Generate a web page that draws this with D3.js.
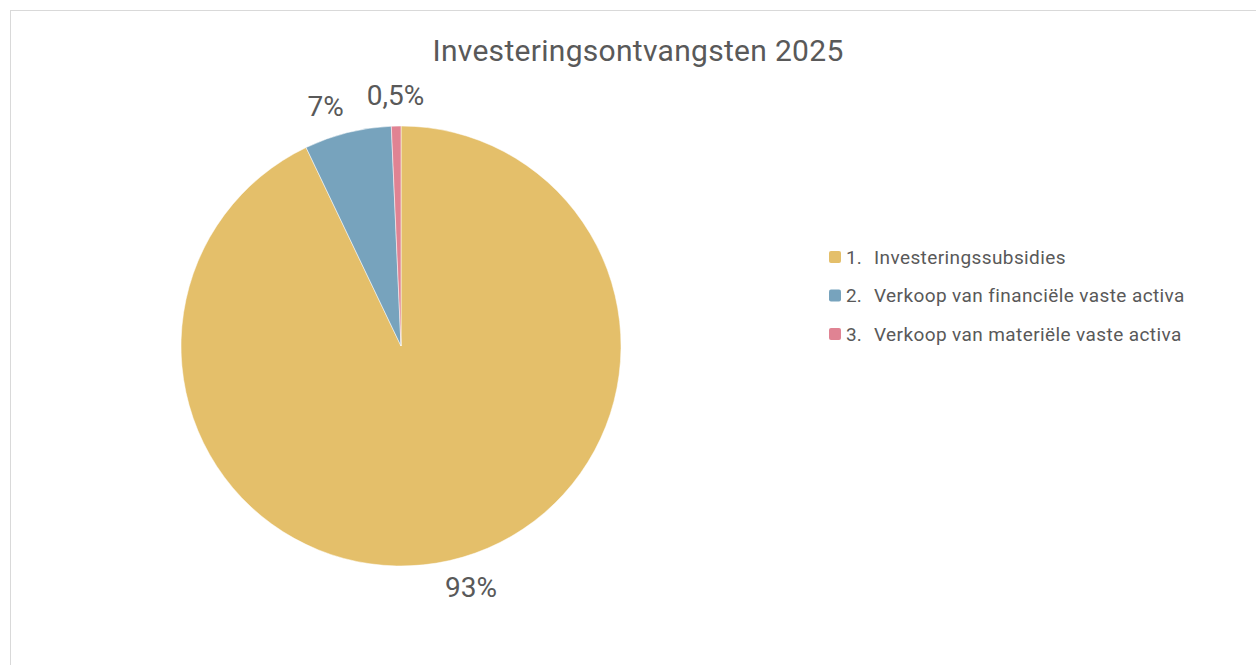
<!DOCTYPE html>
<html>
<head>
<meta charset="utf-8">
<script src="https://cdn.jsdelivr.net/npm/d3@7"></script>
<style>
  body { margin: 0; background: #fff; }
  text { font-family: Roboto, "Liberation Sans", sans-serif; fill: #595959; }
</style>
</head>
<body>
<svg id="pie"></svg>
<script>
var categories = ["Investeringssubsidies", "Verkoop van financiële vaste activa", "Verkoop van materiële vaste activa"];
var values = [92.9, 6.4, 0.7];
var labels = ["93%", "7%", "0,5%"];
var colors = ["#E4BF6A", "#77A3BD", "#E08393"];

var width = 1256, height = 665;
var data = categories.map((c, i) => ({ name: c, value: values[i], label: labels[i] }));

var svg = d3.select("#pie")
            .attr("width", width)
            .attr("height", height);

// chart frame
svg.append("rect")
   .attr("x", 10.5)
   .attr("y", 10.5)
   .attr("width", width)
   .attr("height", height)
   .attr("fill", "none")
   .attr("stroke", "#d9d9d9");

svg.append("text")
   .attr("x", 638)
   .attr("y", 61)
   .attr("font-size", "30px")
   .attr("letter-spacing", "0.3px")
   .style("text-anchor", "middle")
   .text("Investeringsontvangsten 2025");

var radius = 220;
var chart = svg.append("g")
               .attr("transform", "translate(401, 346)");

var arcs = d3.pie()
             .sort(null)
             .value(d => d.value);

var path = d3.arc()
             .innerRadius(0)
             .outerRadius(radius);

var color = d3.scaleOrdinal()
              .domain(categories)
              .range(colors);

chart.selectAll(".arc")
     .data(arcs(data))
     .enter()
       .append("path")
       .classed("arc", true)
       .attr("fill", d => color(d.data.name))
       .attr("stroke", "#fff")
       .attr("stroke-width", "0.5px")
       .attr("d", path);

// outside-end labels, big slices nudged a little counter-clockwise like Excel does
function labelPos(d) {
    var a = (d.startAngle + d.endAngle) / 2;
    if (d.endAngle - d.startAngle > 0.3) a -= 0.06;
    var r = radius + 31;
    return [Math.sin(a) * r, -Math.cos(a) * r];
}

chart.selectAll(".pie-label")
     .data(arcs(data))
     .enter()
       .append("text")
       .classed("pie-label", true)
       .attr("x", d => labelPos(d)[0])
       .attr("y", d => labelPos(d)[1])
       .attr("dy", "0.35em")
       .attr("font-size", "28px")
       .style("text-anchor", "middle")
       .text(d => d.data.label);

// Legend
var legend = svg.append("g")
                .attr("transform", "translate(829, 251)");

var item = legend.selectAll(".legend-item")
                 .data(categories)
                 .enter()
                   .append("g")
                   .classed("legend-item", true)
                   .attr("transform", (d, i) => "translate(0," + (i * 38.5) + ")");

item.append("rect")
    .attr("width", 12)
    .attr("height", 12)
    .attr("rx", 2)
    .attr("fill", d => color(d));

item.append("text")
    .attr("x", 17)
    .attr("y", 12.5)
    .attr("font-size", "19px")
    .text((d, i) => (i + 1) + ".");

item.append("text")
    .attr("x", 45)
    .attr("y", 12.5)
    .attr("font-size", "19px")
    .attr("letter-spacing", "0.4px")
    .text(d => d);
</script>
</body>
</html>
